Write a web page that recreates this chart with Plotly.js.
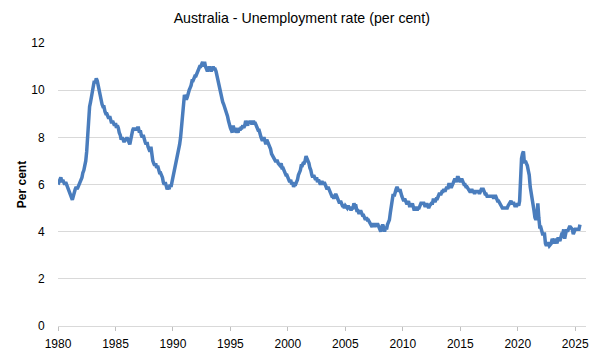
<!DOCTYPE html>
<html>
<head>
<meta charset="utf-8">
<script src="https://cdn.plot.ly/plotly-3.0.1.min.js"></script>
<style>
  html, body { margin: 0; padding: 0; background: #ffffff; }
  #chart { width: 600px; height: 361px; }
</style>
</head>
<body>
<div id="chart"></div>
<script>
// Monthly unemployment rate (per cent), one row per year, starting January 1980
const startYear = 1980;
const rate1980 = [6.0, 6.1, 6.2, 6.3, 6.1, 6.2, 6.1, 6.0, 6.1, 6.0, 5.9, 5.85];
const rate1981 = [5.7, 5.6, 5.5, 5.35, 5.5, 5.7, 5.8, 5.9, 5.8, 5.9, 6.0, 6.1];
const rate1982 = [6.2, 6.3, 6.5, 6.6, 6.8, 7.0, 7.4, 8.1, 8.9, 9.3, 9.5, 9.8];
const rate1983 = [10.1, 10.2, 10.4, 10.3, 10.5, 10.4, 10.2, 10.0, 9.7, 9.5, 9.4, 9.3];
const rate1984 = [9.3, 9.1, 9.0, 9.0, 8.9, 8.8, 8.9, 8.7, 8.6, 8.7, 8.6, 8.5];
const rate1985 = [8.6, 8.4, 8.5, 8.4, 8.2, 8.1, 7.9, 8.0, 7.9, 7.8, 7.9, 7.9];
const rate1986 = [8.0, 7.9, 7.8, 7.7, 7.9, 8.2, 8.3, 8.4, 8.3, 8.4, 8.3, 8.4];
const rate1987 = [8.4, 8.2, 8.3, 8.1, 8.0, 8.1, 7.9, 7.8, 7.7, 7.8, 7.6, 7.5];
const rate1988 = [7.4, 7.6, 7.2, 7.0, 6.9, 6.8, 6.9, 6.7, 6.8, 6.6, 6.5, 6.5];
const rate1989 = [6.4, 6.3, 6.1, 6.0, 6.1, 5.9, 5.8, 5.9, 5.8, 6.0, 5.9, 6.1];
const rate1990 = [6.3, 6.4, 6.6, 6.9, 7.1, 7.3, 7.5, 7.7, 8.0, 8.4, 8.9, 9.4];
const rate1991 = [9.8, 9.7, 9.6, 9.7, 9.9, 10.0, 10.1, 10.2, 10.4, 10.4, 10.5, 10.6];
const rate1992 = [10.6, 10.7, 10.8, 10.9, 11.0, 11.0, 11.1, 11.2, 11.0, 11.2, 11.0, 10.9];
const rate1993 = [10.8, 10.9, 11.0, 10.9, 10.8, 10.9, 11.0, 10.9, 10.9, 10.8, 10.6, 10.4];
const rate1994 = [10.2, 10.0, 9.8, 9.7, 9.5, 9.4, 9.3, 9.2, 9.0, 8.9, 8.7, 8.5];
const rate1995 = [8.4, 8.3, 8.2, 8.5, 8.3, 8.4, 8.2, 8.3, 8.2, 8.4, 8.3, 8.4];
const rate1996 = [8.4, 8.5, 8.4, 8.5, 8.7, 8.6, 8.5, 8.7, 8.6, 8.7, 8.6, 8.6];
const rate1997 = [8.7, 8.6, 8.6, 8.5, 8.4, 8.3, 8.3, 8.1, 8.0, 7.9, 7.9, 8.0];
const rate1998 = [7.8, 7.7, 7.9, 7.8, 7.7, 7.6, 7.5, 7.3, 7.2, 7.2, 7.1, 7.0];
const rate1999 = [7.0, 7.0, 6.9, 6.8, 6.8, 6.9, 6.7, 6.7, 6.6, 6.5, 6.4, 6.4];
const rate2000 = [6.3, 6.2, 6.1, 6.2, 6.0, 6.1, 5.9, 6.0, 6.0, 6.1, 6.2, 6.4];
const rate2001 = [6.5, 6.6, 6.8, 6.8, 6.9, 6.9, 7.0, 7.2, 7.1, 7.0, 6.9, 6.7];
const rate2002 = [6.6, 6.4, 6.3, 6.4, 6.3, 6.2, 6.3, 6.1, 6.2, 6.1, 6.0, 6.1];
const rate2003 = [6.1, 6.0, 6.1, 6.0, 5.9, 5.8, 5.9, 5.8, 5.7, 5.6, 5.5, 5.5];
const rate2004 = [5.4, 5.5, 5.6, 5.5, 5.4, 5.3, 5.2, 5.3, 5.2, 5.1, 5.1, 5.0];
const rate2005 = [5.1, 5.0, 5.0, 5.1, 5.0, 5.0, 4.9, 5.0, 5.0, 5.2, 5.1, 5.1];
const rate2006 = [4.9, 4.9, 4.8, 4.8, 4.9, 4.8, 4.7, 4.7, 4.6, 4.5, 4.6, 4.5];
const rate2007 = [4.5, 4.4, 4.4, 4.3, 4.2, 4.3, 4.3, 4.2, 4.3, 4.3, 4.3, 4.2];
const rate2008 = [4.1, 4.0, 4.2, 4.3, 4.2, 4.0, 4.2, 4.1, 4.3, 4.4, 4.5, 4.8];
const rate2009 = [5.1, 5.3, 5.6, 5.5, 5.7, 5.8, 5.9, 5.8, 5.7, 5.8, 5.6, 5.5];
const rate2010 = [5.4, 5.3, 5.4, 5.3, 5.2, 5.2, 5.3, 5.1, 5.1, 5.1, 5.2, 5.0];
const rate2011 = [4.9, 5.0, 5.0, 4.9, 5.0, 5.0, 5.1, 5.2, 5.2, 5.2, 5.2, 5.1];
const rate2012 = [5.1, 5.2, 5.1, 5.0, 5.1, 5.2, 5.2, 5.2, 5.4, 5.3, 5.3, 5.4];
const rate2013 = [5.4, 5.5, 5.6, 5.6, 5.6, 5.7, 5.7, 5.8, 5.7, 5.8, 5.9, 5.8];
const rate2014 = [6.0, 6.0, 5.9, 5.9, 6.0, 6.1, 6.2, 6.2, 6.1, 6.3, 6.3, 6.2];
const rate2015 = [6.1, 6.2, 6.2, 6.1, 6.0, 6.0, 5.9, 5.9, 5.8, 5.8, 5.7, 5.7];
const rate2016 = [5.8, 5.7, 5.7, 5.6, 5.7, 5.7, 5.7, 5.7, 5.6, 5.7, 5.8, 5.8];
const rate2017 = [5.8, 5.7, 5.6, 5.6, 5.5, 5.5, 5.5, 5.5, 5.5, 5.5, 5.5, 5.4];
const rate2018 = [5.5, 5.5, 5.4, 5.3, 5.3, 5.2, 5.2, 5.1, 5.0, 5.0, 5.0, 5.0];
const rate2019 = [5.0, 5.0, 5.1, 5.2, 5.2, 5.3, 5.2, 5.2, 5.2, 5.1, 5.1, 5.1];
const rate2020 = [5.2, 5.1, 5.3, 6.4, 7.1, 7.3, 7.4, 6.9, 7.0, 6.9, 6.8, 6.6];
const rate2021 = [6.4, 5.9, 5.7, 5.5, 5.1, 4.9, 4.6, 4.5, 4.6, 5.2, 4.6, 4.2];
const rate2022 = [4.2, 4.0, 3.9, 3.9, 3.9, 3.5, 3.4, 3.5, 3.5, 3.4, 3.5, 3.5];
const rate2023 = [3.7, 3.5, 3.5, 3.7, 3.6, 3.5, 3.7, 3.7, 3.6, 3.8, 3.9, 3.9];
const rate2024 = [4.1, 3.7, 3.9, 4.1, 4.0, 4.1, 4.2, 4.2, 4.1, 4.1, 3.9, 4.0];
const rate2025 = [4.1, 4.1, 4.1, 4.1, 4.1, 4.3];

const yearlyRates = [
  rate1980, rate1981, rate1982, rate1983, rate1984, rate1985, rate1986, rate1987,
  rate1988, rate1989, rate1990, rate1991, rate1992, rate1993, rate1994, rate1995,
  rate1996, rate1997, rate1998, rate1999, rate2000, rate2001, rate2002, rate2003,
  rate2004, rate2005, rate2006, rate2007, rate2008, rate2009, rate2010, rate2011,
  rate2012, rate2013, rate2014, rate2015, rate2016, rate2017, rate2018, rate2019,
  rate2020, rate2021, rate2022, rate2023, rate2024, rate2025
];

const tickYears = [1980, 1985, 1990, 1995, 2000, 2005, 2010, 2015, 2020, 2025];
const yTicks = [0, 2, 4, 6, 8, 10, 12];

const pad = n => (n < 10 ? '0' : '') + n;
const dates = [];
const values = [];
yearlyRates.forEach((row, i) => {
  row.forEach((v, m) => {
    dates.push((startYear + i) + '-' + pad(m + 1) + '-01');
    values.push(v);
  });
});

const fontFamily = '"Liberation Sans", Arial, sans-serif';

const trace = {
  x: dates,
  y: values,
  type: 'scatter',
  mode: 'lines',
  line: { color: '#4a7dbd', width: 3.5 },
  hoverinfo: 'skip'
};

const layout = {
  width: 600,
  height: 361,
  paper_bgcolor: '#ffffff',
  plot_bgcolor: '#ffffff',
  margin: { l: 58, r: 14, t: 43, b: 35 },
  showlegend: false,
  font: { family: fontFamily, size: 12, color: '#000000' },
  title: {
    text: 'Australia - Unemployment rate (per cent)',
    font: { family: fontFamily, size: 14.2, color: '#000000' },
    xref: 'container', x: 0.503, xanchor: 'center',
    yref: 'container', y: 0.95, yanchor: 'middle'
  },
  xaxis: {
    type: 'date',
    range: ['1980-01-01', '2025-12-10'],
    tickvals: tickYears.map(y => y + '-01-01'),
    ticktext: tickYears.map(String),
    ticks: 'outside',
    ticklen: 4,
    tickcolor: '#bfbfbf',
    tickwidth: 1,
    ticklabelstandoff: 3,
    showline: true,
    linecolor: '#d9d9d9',
    linewidth: 1,
    showgrid: false,
    zeroline: false,
    tickfont: { family: fontFamily, size: 12, color: '#000000' }
  },
  yaxis: {
    range: [0, 12],
    tickvals: yTicks,
    ticktext: yTicks.map(String),
    ticks: 'outside',
    ticklen: 10,
    tickcolor: 'rgba(0,0,0,0)',
    showgrid: true,
    gridcolor: '#d9d9d9',
    gridwidth: 1,
    zeroline: false,
    showline: false,
    tickfont: { family: fontFamily, size: 12, color: '#000000' },
    title: {
      text: '<b>Per cent</b>',
      font: { family: fontFamily, size: 12, color: '#000000' },
      standoff: 2
    }
  }
};

Plotly.newPlot('chart', [trace], layout, { staticPlot: true, displayModeBar: false });
</script>
</body>
</html>
